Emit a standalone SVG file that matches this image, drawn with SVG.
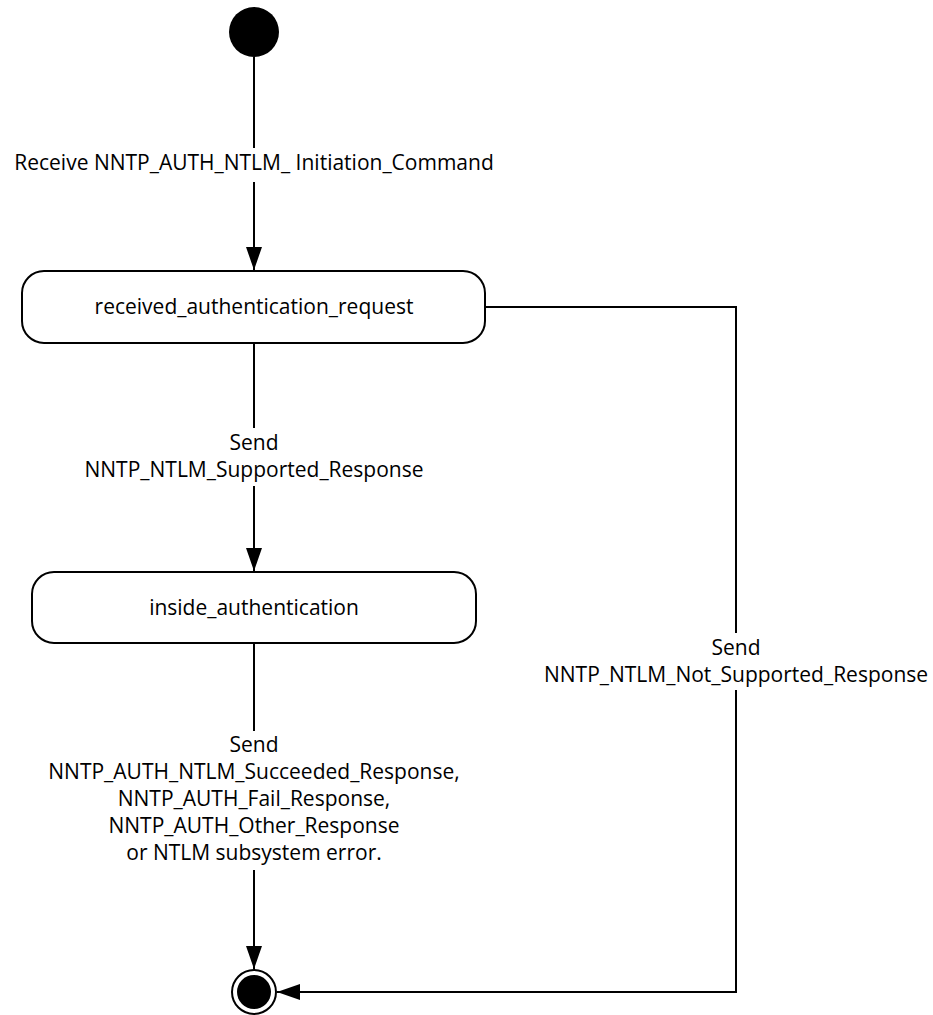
<svg xmlns="http://www.w3.org/2000/svg" width="933" height="1015" viewBox="0 0 933 1015">
<style>
.ln{stroke:#000;stroke-width:2;fill:none}
.st{fill:#fff;stroke:#000;stroke-width:2}
text{font-family:"Open Sans","Liberation Sans",sans-serif;font-size:21px;fill:#000;text-anchor:middle}
</style>
<defs>
<marker id="ah" markerWidth="24" markerHeight="26" refX="23" refY="13" orient="auto" markerUnits="userSpaceOnUse">
<path d="M0,5 L23,13 L0,21 Z" fill="#000"/>
</marker>
</defs>
<rect width="933" height="1015" fill="#fff"/>
<g id="connectors">
<line class="ln" x1="254" y1="57" x2="254" y2="148"/>
<line class="ln" x1="254" y1="182" x2="254" y2="270" marker-end="url(#ah)"/>
<line class="ln" x1="254" y1="343" x2="254" y2="428"/>
<line class="ln" x1="254" y1="486" x2="254" y2="571" marker-end="url(#ah)"/>
<line class="ln" x1="254" y1="643" x2="254" y2="731"/>
<line class="ln" x1="254" y1="870" x2="254" y2="969" marker-end="url(#ah)"/>
<polyline class="ln" points="485,307 736,307 736,633"/>
<polyline class="ln" points="736,690 736,992 277,992" marker-end="url(#ah)"/>
</g>
<g id="start"><circle cx="254" cy="32" r="25" fill="#000"/></g>
<g id="received_authentication_request">
<rect class="st" x="22" y="271" width="463" height="72" rx="22"/>
<text x="254" y="314">received_authentication_request</text>
</g>
<g id="inside_authentication">
<rect class="st" x="32" y="572" width="444" height="71" rx="22"/>
<text x="254" y="615">inside_authentication</text>
</g>
<g id="end">
<circle cx="254" cy="992" r="22" fill="#fff" stroke="#000" stroke-width="2"/>
<circle cx="254" cy="992" r="17" fill="#000"/>
</g>
<g id="labels">
<text x="254" y="170">Receive NNTP_AUTH_NTLM_ Initiation_Command</text>
<text x="254" y="450">Send</text>
<text x="254" y="477">NNTP_NTLM_Supported_Response</text>
<text x="736" y="655">Send</text>
<text x="736" y="682">NNTP_NTLM_Not_Supported_Response</text>
<text x="254" y="752">Send</text>
<text x="254" y="779">NNTP_AUTH_NTLM_Succeeded_Response,</text>
<text x="254" y="806">NNTP_AUTH_Fail_Response,</text>
<text x="254" y="833">NNTP_AUTH_Other_Response</text>
<text x="254" y="860">or NTLM subsystem error.</text>
</g>
</svg>
